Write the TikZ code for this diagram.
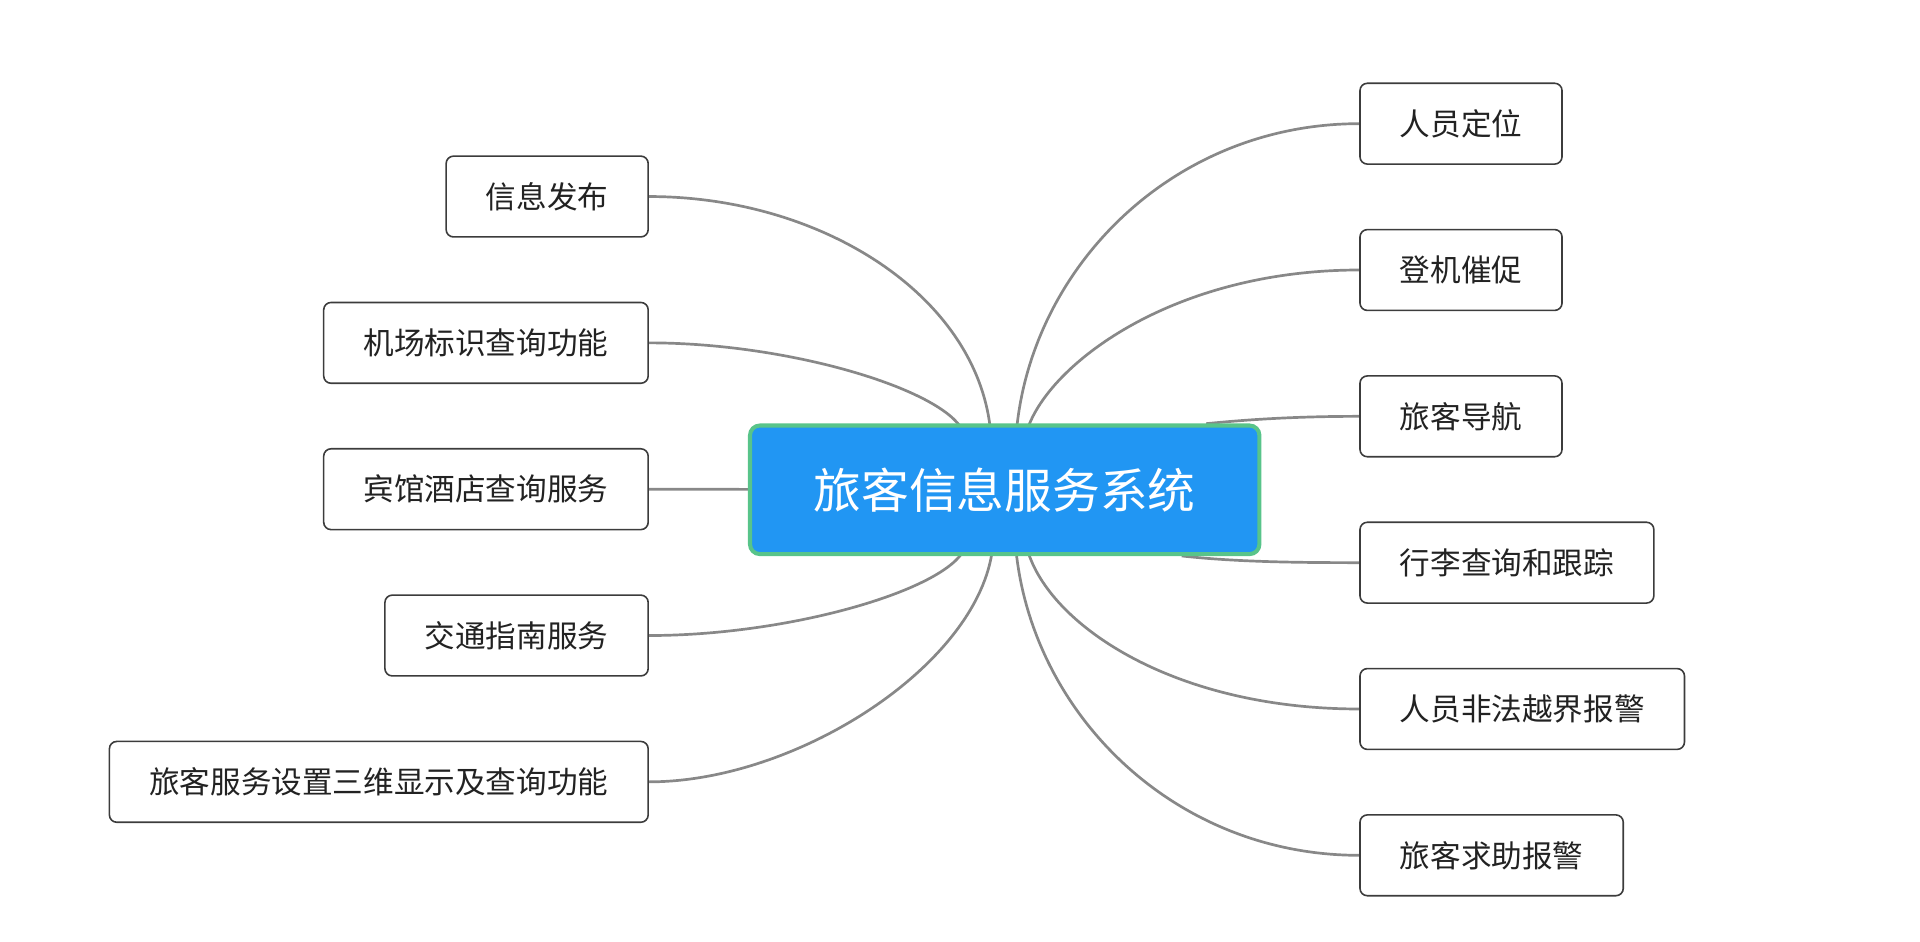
\documentclass[tikz,border=0pt]{standalone}
\usepackage{fontspec}
\setmainfont{Noto Sans CJK SC}
\definecolor{hubblue}{RGB}{33,150,243}
\definecolor{hubgreen}{RGB}{88,196,138}
\definecolor{linkgray}{RGB}{136,136,136}
\definecolor{boxline}{RGB}{60,60,60}
\definecolor{boxtext}{RGB}{34,34,34}
\pgfdeclarelayer{bg}
\pgfsetlayers{bg,main}
\tikzset{
  hub/.style={draw=hubgreen, line width=3.3pt, fill=hubblue, rounded corners=8pt,
    minimum width=416pt, minimum height=105pt, inner sep=0pt, text=white,
    font=\fontsize{39}{46}\selectfont},
  leaf/.style={draw=boxline, line width=1.3pt, fill=white, rounded corners=6pt,
    minimum height=66pt, inner xsep=32.5pt, inner ysep=0pt, text=boxtext,
    font=\fontsize{25}{30}\selectfont},
  link/.style={draw=linkgray, line width=2.2pt}
}
\begin{document}
\begin{tikzpicture}[x=1pt, y=-1pt]
\useasboundingbox (0,0) rectangle (1568,768.5);
\node[hub] (c) at (820.5,400) {旅客信息服务系统};
% left
\node[leaf, anchor=east] (l1) at (530,160.5) {信息发布};
\node[leaf, anchor=east] (l2) at (530,280) {机场标识查询功能};
\node[leaf, anchor=east] (l3) at (530,399.5) {宾馆酒店查询服务};
\node[leaf, anchor=east] (l4) at (530,519) {交通指南服务};
\node[leaf, anchor=east] (l5) at (530,638.5) {旅客服务设置三维显示及查询功能};
% right
\node[leaf, anchor=west] (r1) at (1110,101) {人员定位};
\node[leaf, anchor=west] (r2) at (1110,220.5) {登机催促};
\node[leaf, anchor=west] (r3) at (1110,340) {旅客导航};
\node[leaf, anchor=west] (r4) at (1110,459.5) {行李查询和跟踪};
\node[leaf, anchor=west] (r5) at (1110,579) {人员非法越界报警};
\node[leaf, anchor=west] (r6) at (1110,698.5) {旅客求助报警};
% start points on the hub
\coordinate (a1) at (808.5,348);
\coordinate (a2) at (784,348);
\coordinate (a4) at (785.5,452);
\coordinate (a5) at (810,452);
\coordinate (b1) at (830.5,348);
\coordinate (b2) at (840,348);
\coordinate (b3) at (985,346);
\coordinate (b4) at (965,454);
\coordinate (b5) at (840,452);
\coordinate (b6) at (830,452);
\begin{pgfonlayer}{bg}
\path[link] (a1) .. controls (795,240) and (670,160.5) .. (l1.east);
\path[link] (a2) .. controls (760,315) and (640,280) .. (l2.east);
\path[link] (c.center) -- (l3.east);
\path[link] (a4) .. controls (762,485) and (640,519) .. (l4.east);
\path[link] (a5) .. controls (795,545) and (650,638.5) .. (l5.east);
\path[link] (b1) .. controls (845,215) and (960,101) .. (r1.west);
\path[link] (b2) .. controls (860,295) and (960,220.5) .. (r2.west);
\path[link] (b3) .. controls (1030,341.5) and (1070,340) .. (r3.west);
\path[link] (b4) .. controls (1010,459) and (1060,459.5) .. (r4.west);
\path[link] (b5) .. controls (860,512) and (960,579) .. (r5.west);
\path[link] (b6) .. controls (845,585) and (960,698.5) .. (r6.west);
\end{pgfonlayer}
\end{tikzpicture}
\end{document}
